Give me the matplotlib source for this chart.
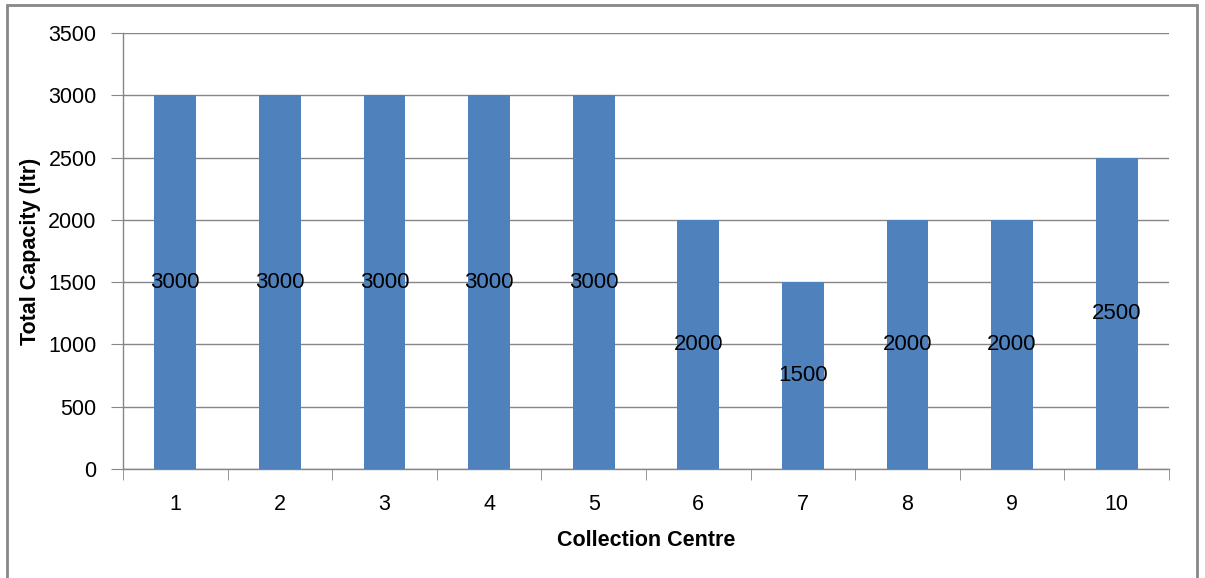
import numpy as np
import matplotlib.pyplot as plt
from matplotlib.patches import Rectangle

centres = ['1', '2', '3', '4', '5', '6', '7', '8', '9', '10']
capacity = [3000, 3000, 3000, 3000, 3000, 2000, 1500, 2000, 2000, 2500]

plt.rcParams['font.family'] = ['Liberation Sans', 'DejaVu Sans']

fig = plt.figure(figsize=(12.05, 5.78), dpi=100)
ax = fig.add_axes([123 / 1205, 1 - 469 / 578, (1169 - 123) / 1205, (469 - 33) / 578])

# outer chart border
fig.patches.append(Rectangle((7 / 1205, -0.01), (1197 - 7) / 1205, 1 - 5 / 578 + 0.01,
                             transform=fig.transFigure, fill=False,
                             edgecolor='#888888', linewidth=2))

x = np.arange(len(centres))
bars = ax.bar(x, capacity, width=0.4, color='#4f81bd', zorder=3)

for xi, v in zip(x, capacity):
    ax.text(xi, v / 2, str(v), ha='center', va='center', fontsize=16,
            color='black', zorder=4)

ax.set_xlim(-0.5, len(centres) - 0.5)
ax.set_ylim(0, 3500)
ax.set_yticks(np.arange(0, 3501, 500))
ax.set_xticks(x)
ax.set_xticklabels(centres)
ax.set_xticks(np.arange(-0.5, len(centres), 1), minor=True)

ax.grid(axis='y', color='#868686', linewidth=1, zorder=0)
for side in ['top', 'right']:
    ax.spines[side].set_visible(False)
for side in ['left', 'bottom']:
    ax.spines[side].set_color('#868686')
    ax.spines[side].set_linewidth(1)

ax.tick_params(axis='y', length=9, color='#868686', labelsize=15.5, pad=10)
ax.tick_params(axis='x', which='major', length=0, labelsize=15.5, pad=18)
ax.tick_params(axis='x', which='minor', length=8, color='#868686')

ax.set_xlabel('Collection Centre', fontsize=15.5, fontweight='bold', labelpad=11)
ax.set_ylabel('Total Capacity (ltr)', fontsize=15.5, fontweight='bold')
ax.yaxis.set_label_coords((41 - 123) / 1046, 0.5)

fig.savefig('out.png', dpi=100)
